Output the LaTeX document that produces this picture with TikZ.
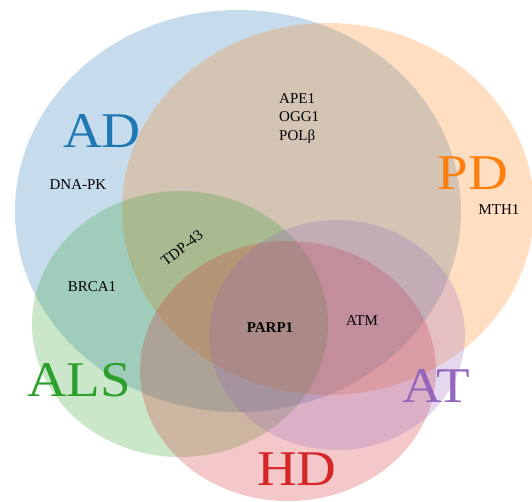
\documentclass[tikz,border=0pt]{standalone}
\usepackage{fontspec}
\setmainfont{Liberation Serif}
\definecolor{cAD}{HTML}{1F77B4}
\definecolor{cPD}{HTML}{FF7F0E}
\definecolor{cALS}{HTML}{2CA02C}
\definecolor{cHD}{HTML}{D62728}
\definecolor{cAT}{HTML}{9467BD}
\begin{document}
\begin{tikzpicture}[x=1pt,y=-1pt,
  setfill/.style={fill=#1,fill opacity=0.25,draw=none},
  biglabel/.style={text=#1,inner sep=0pt,font=\fontsize{50}{50}\selectfont},
  gene/.style={text=black,inner sep=0pt,font=\fontsize{15}{18.5}\selectfont}]
\useasboundingbox (0,0) rectangle (532,501);
\fill[white] (0,0) rectangle (532,501);
\fill[setfill=cAD] (238,211) ellipse [x radius=223, y radius=201];
\fill[setfill=cPD] (328,209) ellipse [x radius=206, y radius=186];
\fill[setfill=cALS] (180,324) ellipse [x radius=148, y radius=133];
\fill[setfill=cHD] (288,371) ellipse [x radius=148, y radius=130];
\fill[setfill=cAT] (337,335) ellipse [x radius=128, y radius=115];
\node[biglabel=cAD] (ad) at (102,131) {\scalebox{1.08}[1]{AD}};
\node[biglabel=cPD] (pd) at (473,173) {\scalebox{1.1}[1]{PD}};
\node[biglabel=cALS] (als) at (79,380) {\scalebox{1.1}[1]{ALS}};
\node[biglabel=cAT] (at) at (436,386) {\scalebox{1.1}[1]{AT}};
\node[biglabel=cHD] (hd) at (297,469) {\scalebox{1.1}[1]{HD}};
\node[gene,anchor=north west,align=left] (ape) at (279,93) {APE1\\OGG1\\POLβ};
\node[gene] (dnapk) at (78,185) {DNA-PK};
\node[gene] (mth) at (499,210) {MTH1};
\node[gene,rotate=38] (tdp) at (182,248) {TDP-43};
\node[gene] (brca) at (92,287) {BRCA1};
\node[gene,font=\fontsize{15}{18}\selectfont\bfseries] (parp) at (270,328) {PARP1};
\node[gene] (atm) at (362,321) {ATM};
\end{tikzpicture}
\end{document}
